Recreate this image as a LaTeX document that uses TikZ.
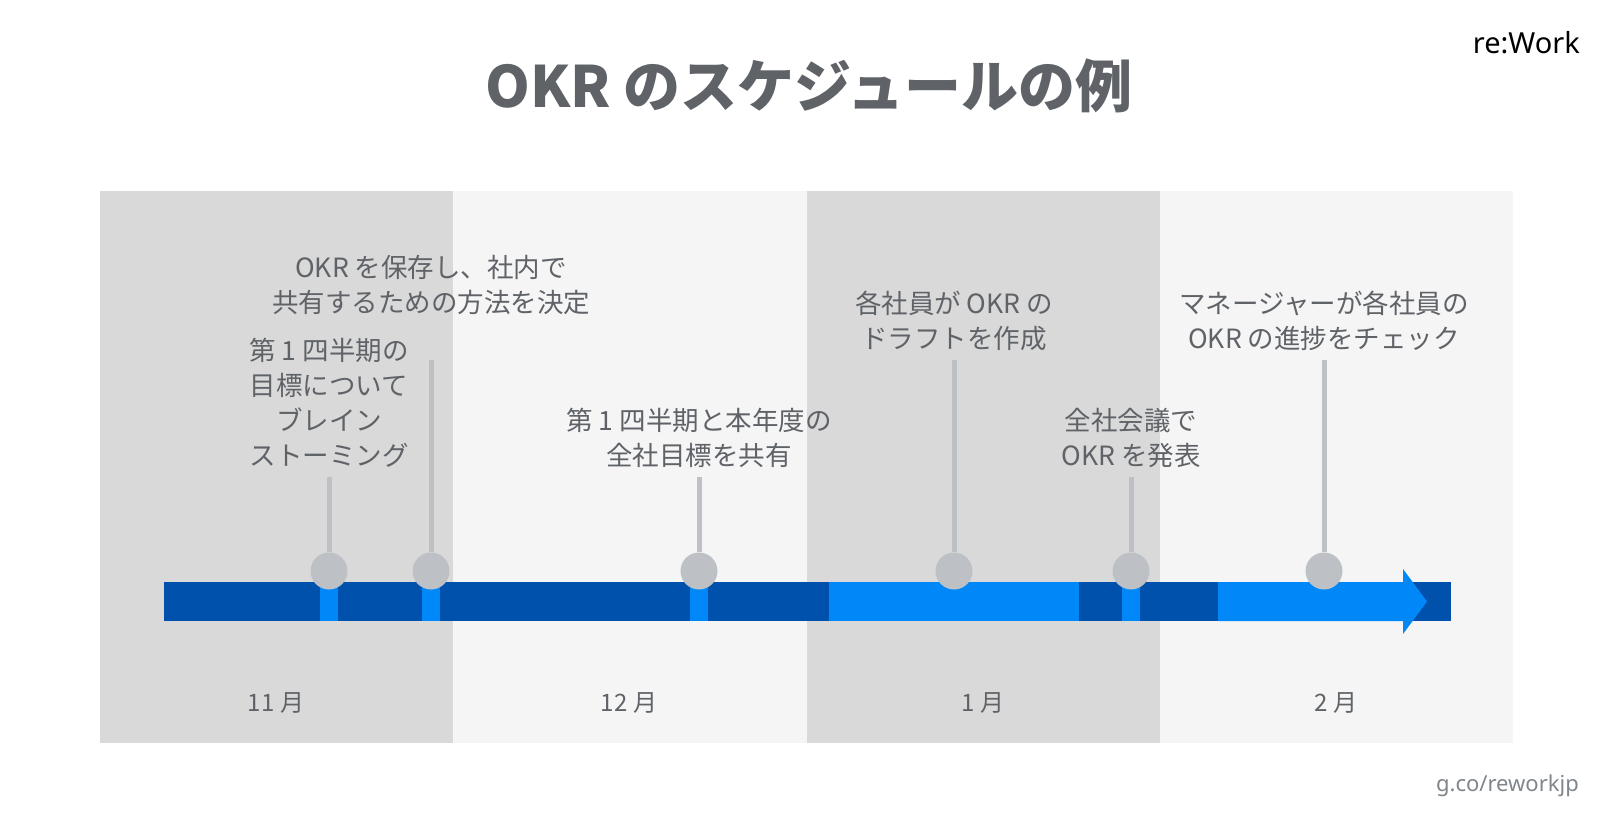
\documentclass[tikz,border=0pt]{standalone}
\usepackage{fontspec}
\setmainfont{Noto Sans CJK JP}
\newfontfamily\logofont{Noto Sans}
\definecolor{banddark}{HTML}{D9D9D9}
\definecolor{bandlight}{HTML}{F5F5F5}
\definecolor{bardark}{HTML}{0051AB}
\definecolor{barlight}{HTML}{0088F8}
\definecolor{pin}{HTML}{BDC1C6}
\definecolor{txt}{HTML}{5F6368}
\definecolor{urlgray}{HTML}{80868B}
\tikzset{
  band/.style={draw=none},
  pinhead/.style={circle, fill=pin, minimum size=37pt, inner sep=0pt},
  pinstem/.style={draw=pin, line width=5pt},
  stripe/.style={fill=barlight},
  label/.style={text=txt, align=center, inner sep=0pt, anchor=south,
    font=\fontsize{26.5}{35}\selectfont},
  month/.style={text=txt, inner sep=0pt, font=\fontsize{24}{28}\selectfont},
}
\begin{document}
\begin{tikzpicture}[x=1pt,y=-1pt]
\fill[white] (0,0) rectangle (1614,834);
\useasboundingbox (0,0) rectangle (1614,834);
% month bands
\fill[banddark] (100,191) rectangle (453,743);
\fill[bandlight] (453,191) rectangle (807,743);
\fill[banddark] (807,191) rectangle (1160,743);
\fill[bandlight] (1160,191) rectangle (1513,743);
% title and logos
\node[text=txt, inner sep=0pt, font=\fontsize{57}{62}\selectfont\bfseries] (title) at (809,86) {OKR のスケジュールの例};
\node[inner sep=0pt, anchor=east, font=\logofont\fontsize{29}{32}\selectfont] (logo) at (1580,43) {re:Work};
\node[inner sep=0pt, anchor=east, text=urlgray, font=\logofont\fontsize{22}{26}\selectfont] (url) at (1579,786) {g.co/reworkjp};
% timeline bar
\fill[bardark] (164,582) rectangle (1451,621);
\fill[barlight] (829,582) rectangle (1079,621);
\fill[barlight] (1218,582) -- (1403,582) -- (1403,569) -- (1427,601.5) -- (1403,634) -- (1403,621) -- (1218,621) -- cycle;
% stripes under pins
\fill[stripe] (320,582) rectangle (338,621);
\fill[stripe] (422,582) rectangle (440,621);
\fill[stripe] (690,582) rectangle (708,621);
\fill[stripe] (1122,582) rectangle (1140,621);
% stems
\coordinate (s1) at (329,477);
\coordinate (s2) at (431,360);
\coordinate (s3) at (699,477);
\coordinate (s4) at (954,360);
\coordinate (s5) at (1131,477);
\coordinate (s6) at (1324,360);
\node[pinhead] (p1) at (329,571) {};
\node[pinhead] (p2) at (431,571) {};
\node[pinhead] (p3) at (699,571) {};
\node[pinhead] (p4) at (954,571) {};
\node[pinhead] (p5) at (1131,571) {};
\node[pinhead] (p6) at (1324,571) {};
\foreach \i in {1,...,6} {\draw[pinstem] (s\i) -- (p\i.north);}
% labels
\node[label] (l1) at (329,468) {第 1 四半期の\\目標について\\ブレイン\\ストーミング};
\node[label] (l2) at (431,315) {OKR を保存し、社内で\\共有するための方法を決定};
\node[label] (l3) at (699,468) {第 1 四半期と本年度の\\全社目標を共有};
\node[label] (l4) at (954,351) {各社員が OKR の\\ドラフトを作成};
\node[label] (l5) at (1131,468) {全社会議で\\OKR を発表};
\node[label] (l6) at (1324,351) {マネージャーが各社員の\\OKR の進捗をチェック};
% months
\node[month] (m11) at (276,703) {11 月};
\node[month] (m12) at (629,703) {12 月};
\node[month] (m1) at (983,703) {1 月};
\node[month] (m2) at (1336,703) {2 月};
\end{tikzpicture}
\end{document}
